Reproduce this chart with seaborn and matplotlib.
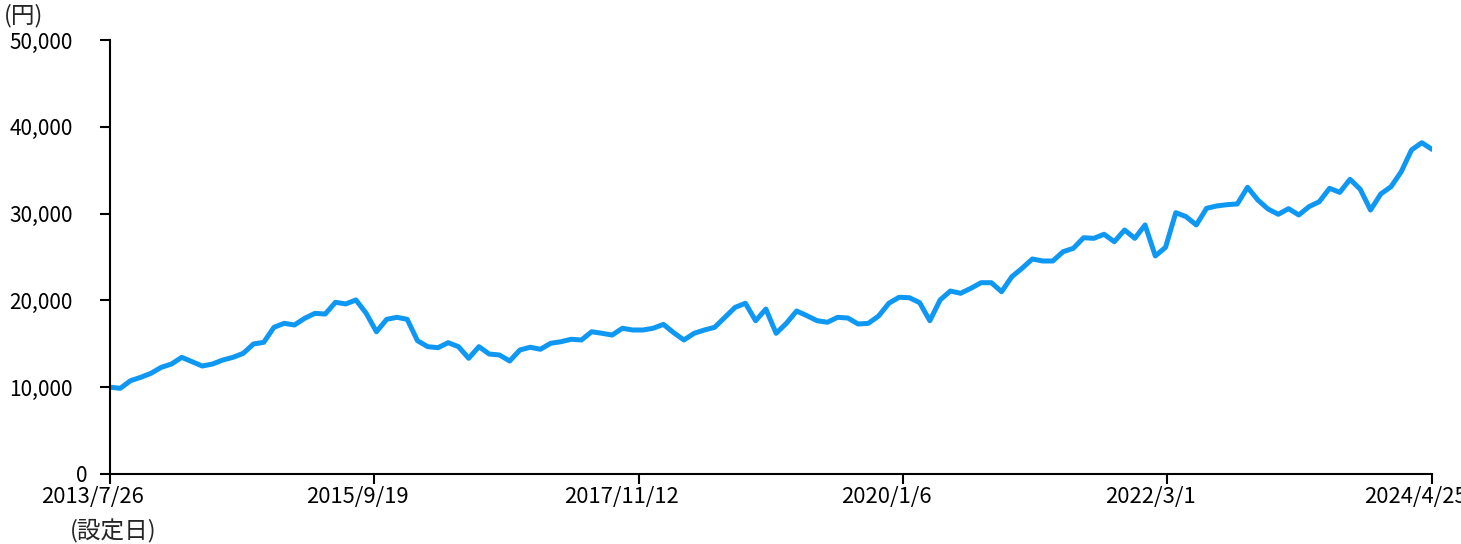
import pandas as pd
import seaborn as sns
import matplotlib.pyplot as plt
import matplotlib.transforms as mtransforms
from matplotlib.ticker import FuncFormatter

# --- data (roughly monthly) ---
start_date = "2013-07-26"
end_date = "2024-04-25"
nav = [
    10000, 9870, 10750, 11140, 11600, 12290, 12670, 13440, 12940, 12440,
    12670, 13130, 13440, 13900, 14980, 15170, 16900, 17360, 17170, 17940,
    18510, 18430, 19780, 19590, 20050, 18510, 16390, 17820, 18050, 17820,
    15360, 14670, 14550, 15130, 14670, 13330, 14670, 13820, 13710, 13020,
    14290, 14600, 14370, 15060, 15240, 15520, 15440, 16390, 16210, 16010,
    16790, 16590, 16590, 16790, 17240, 16280, 15440, 16210, 16590, 16900,
    18050, 19200, 19670, 17660, 19000, 16210, 17360, 18780, 18240, 17660,
    17480, 18050, 17970, 17280, 17360, 18200, 19670, 20360, 20310, 19740,
    17660, 20050, 21080, 20820, 21390, 22040, 22040, 21000, 22730, 23700,
    24770, 24540, 24540, 25610, 26000, 27220, 27150, 27620, 26760, 28110,
    27150, 28690, 25120, 26120, 30110, 29650, 28690, 30610, 30880, 31030,
    31110, 33030, 31570, 30530, 29920, 30570, 29840, 30800, 31370, 32910,
    32450, 33950, 32800, 30410, 32260, 33100, 34830, 37330, 38170, 37400,
]
tick_dates = ["2013-07-26", "2015-09-19", "2017-11-12", "2020-01-06", "2022-03-01", "2024-04-25"]
tick_labels = ["2013/7/26", "2015/9/19", "2017/11/12", "2020/1/6", "2022/3/1", "2024/4/25"]
y_ticks = [0, 10000, 20000, 30000, 40000, 50000]

df = pd.DataFrame({
    "date": pd.date_range(start_date, end_date, periods=len(nav)),
    "nav": nav,
})

sns.set_style("white")
plt.rcParams["font.family"] = ["Noto Sans CJK JP", "DejaVu Sans"]

fig = plt.figure(figsize=(14.61, 5.44), dpi=100)
ax = fig.add_axes([110 / 1461, 70 / 544, 1322 / 1461, 434 / 544])

sns.lineplot(data=df, x="date", y="nav", color="#0f98f3", linewidth=3.6, ax=ax)

ax.set_xlim(pd.Timestamp(start_date), pd.Timestamp(end_date))
ax.set_ylim(0, 50000)
ax.set_xticks(pd.to_datetime(tick_dates))
ax.set_xticklabels(tick_labels)
ax.set_yticks(y_ticks)
ax.yaxis.set_major_formatter(FuncFormatter(lambda v, p: f"{int(v):,}"))
ax.set_xlabel("")
ax.set_ylabel("")

for side in ["top", "right"]:
    ax.spines[side].set_visible(False)
for side in ["left", "bottom"]:
    ax.spines[side].set_linewidth(1.5)
    ax.spines[side].set_color("black")

ax.tick_params(axis="both", direction="out", length=7, width=1.5, colors="black",
               labelsize=15, left=True, bottom=True)
ax.tick_params(axis="x", labelsize=15.8, pad=1.5)
ax.tick_params(axis="y", pad=9)

# labels in the reference sit a little left of their ticks
shift = mtransforms.ScaledTranslation(-0.17, 0, fig.dpi_scale_trans)
for lab in ax.get_xticklabels():
    lab.set_transform(lab.get_transform() + shift)
yshift = mtransforms.ScaledTranslation(-0.15, 0, fig.dpi_scale_trans)
for lab in ax.get_yticklabels():
    if lab.get_text() != "0":
        lab.set_transform(lab.get_transform() + yshift)

fig.text(4 / 1461, 1 - 16 / 544, "(円)", fontsize=17, va="center", ha="left")
fig.text(70 / 1461, 1 - 531 / 544, "(設定日)", fontsize=17, va="center", ha="left")

fig.savefig("out.png", dpi=100, facecolor="white")
